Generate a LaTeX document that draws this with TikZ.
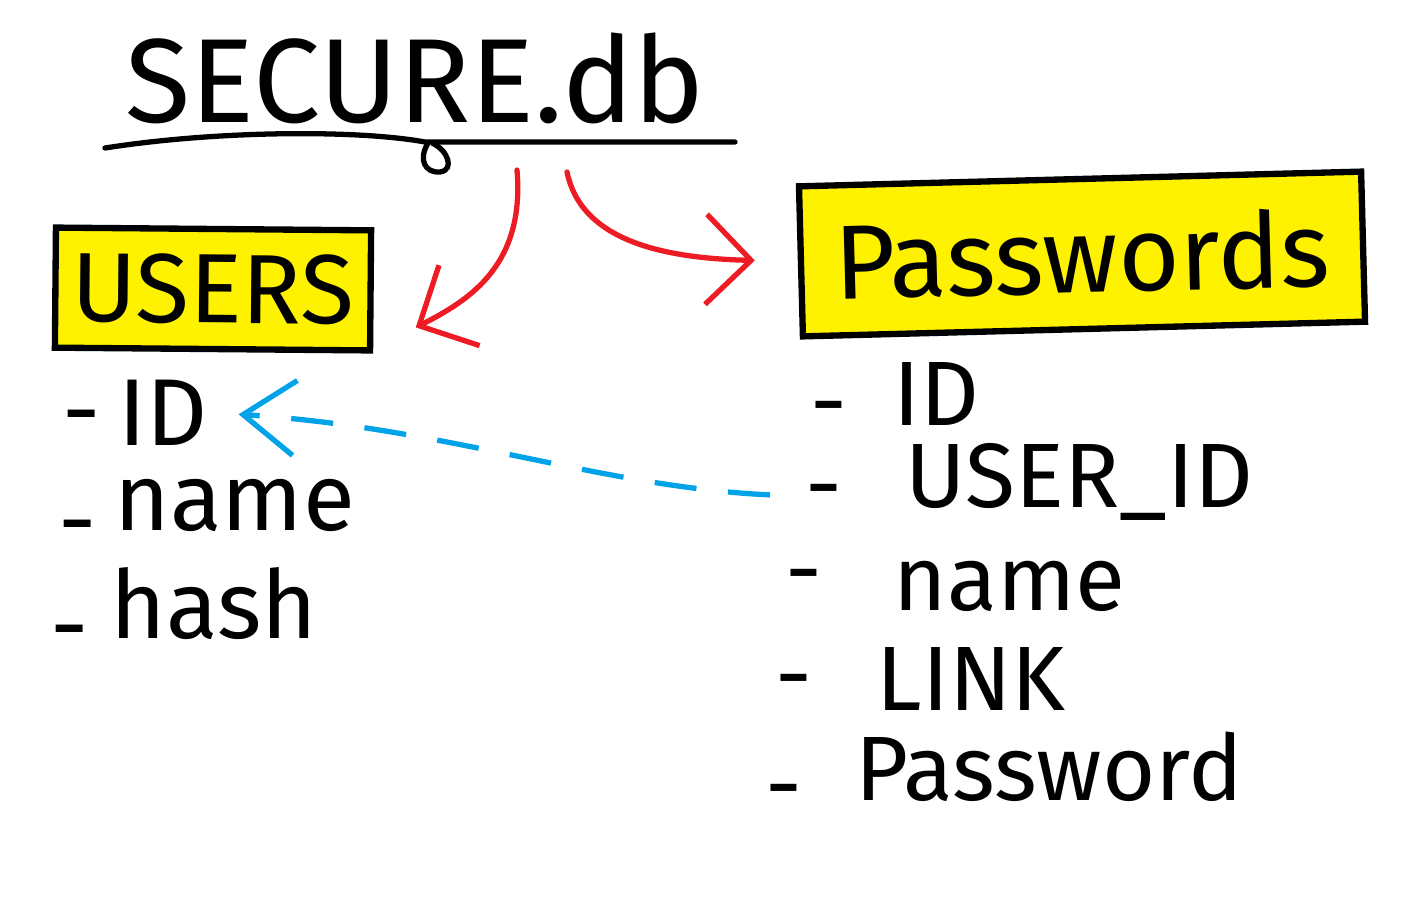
\documentclass[tikz,border=0pt]{standalone}
\usepackage{fontspec}
\setmainfont{Fira Sans}
\usetikzlibrary{arrows.meta}

\definecolor{paintred}{RGB}{237,28,36}
\definecolor{paintblue}{RGB}{0,162,232}
\definecolor{paintyellow}{RGB}{255,242,0}

\tikzset{
  tablebox/.style={draw, line width=1.8pt, fill=paintyellow, inner sep=0pt},
  leftfield/.style={anchor=base west, inner sep=0pt, font=\fontsize{27}{29}\selectfont},
  rightfield/.style={anchor=base west, inner sep=0pt, font=\fontsize{26}{28}\selectfont},
  redarrow/.style={paintred, line width=1.5pt, line cap=round,
    -{Straight Barb[length=4.5mm,width=9mm,line width=1.5pt]}},
  bluearrow/.style={paintblue, line width=1.5pt, dash pattern=on 12pt off 9pt,
    -{Straight Barb[length=5.2mm,width=7.5mm,line width=1.5pt]}}
}

\begin{document}
\begin{tikzpicture}[x=0.01cm, y=-0.01cm]
    \useasboundingbox (0,0) rectangle (1428,918);

    % draw title and underline
    \node[anchor=base west, inner sep=0pt, font=\fontsize{34}{36}\selectfont] (secure) at (125,122) {SECURE.db};
    \draw[line width=1.5pt, line cap=round] (105,148) .. controls (220,130) and (360,130) .. (425,142) -- (735,142);
    \draw[line width=1.5pt] (428,143) .. controls (418,160) and (425,173) .. (440,172) .. controls (455,170) and (448,150) .. (432,143);

    % draw tables
    \node[tablebox, minimum width=3.15cm, minimum height=1.2cm, rotate=-0.5,
      font=\fontsize{28}{30}\selectfont] (users) at (213,289) {USERS};
    \node[tablebox, minimum width=5.62cm, minimum height=1.5cm, rotate=1.5,
      font=\fontsize{30}{32}\selectfont] (passwords) at (1082,254) {Passwords};

    % draw fields of USERS
    \foreach \name/\y/\x/\dx/\dy [count=\i] in {ID/445/118/62/443, name/530/114/58/553, hash/638/110/50/658}
      {
      \node[leftfield] (ld\i) at (\dx,\dy) {-};
      \node[leftfield] (l\i) at (\x,\y) {\name};
      }

    % draw fields of Passwords
    \foreach \name/\y/\x/\dx/\dy [count=\i] in {ID/425/893/810/433, USER\_ID/507/905/805/516, name/610/893/785/601, LINK/710/876/775/706, Password/800/855/765/816}
      {
      \node[rightfield] (rd\i) at (\dx,\dy) {-};
      \node[rightfield] (r\i) at (\x,\y) {\name};
      }

    % draw arrows
    \coordinate (fromusers) at (517,170);
    \coordinate (frompasswords) at (567,172);
    \draw[redarrow] (fromusers) .. controls (525,265) and (470,300) .. ([shift={(42,37)}]users.east);
    \draw[redarrow] (frompasswords) .. controls (580,235) and (650,258) .. ([shift={(-43,-1)}]passwords.west);
    \draw[bluearrow] ([shift={(-35,-5)}]rd2.west) .. controls (600,487) and (450,428) .. ([shift={(30,2)}]l1.east);
  \end{tikzpicture}
\end{document}
